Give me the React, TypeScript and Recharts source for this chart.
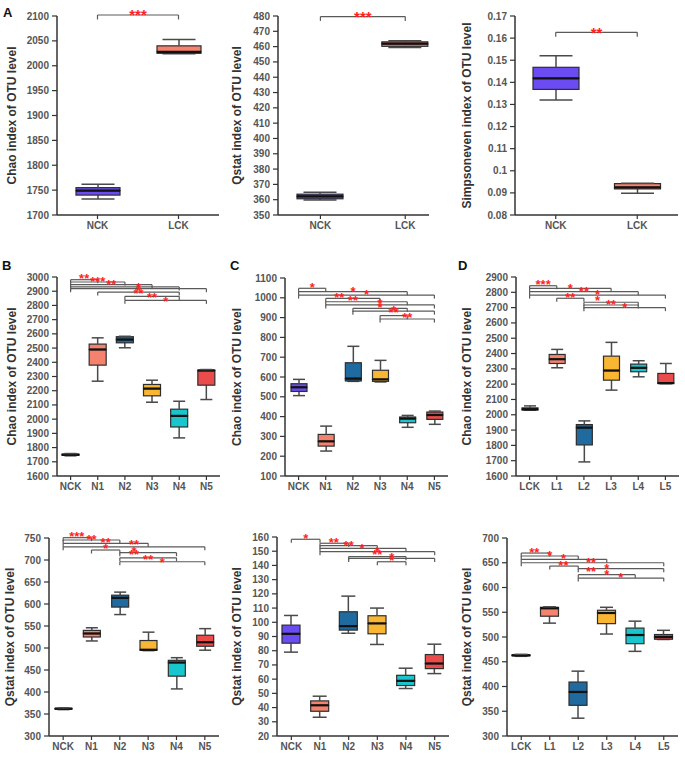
import React from 'react';
import { ComposedChart, Bar, XAxis, YAxis, ReferenceLine, ReferenceDot, Label } from 'recharts';

const FONT = '"Liberation Sans", Arial, Helvetica, sans-serif';
const BOX_COLORS = ['#6a4cf2', '#f4826d', '#1f6a9e', '#f8b632', '#19c6cd', '#ea4b4b'];
const EDGE = '#2e2e2e';
const WHISKER = '#4a4a4a';
const BRACKET = '#5a5a5a';
const STAR = '#ff1f1f';

// ---- categories ----
const catsA = ['NCK', 'LCK'];
const catsN = ['NCK', 'N1', 'N2', 'N3', 'N4', 'N5'];
const catsL = ['LCK', 'L1', 'L2', 'L3', 'L4', 'L5'];

// ---- box statistics: [min, q1, median, q3, max] per category ----
const chaoA = [[1732, 1740, 1749, 1755, 1762], [2024, 2025, 2028, 2040, 2053]];
const qstatA = [[359.8, 360.6, 362.2, 363.6, 364.8], [459.4, 460.2, 461.9, 463.1, 463.9]];
const simpA = [[0.132, 0.1368, 0.1418, 0.1468, 0.152], [0.0898, 0.0918, 0.0925, 0.0942, 0.0944]];

const chaoB = [
  [1742, 1745, 1750, 1754, 1758],
  [2267, 2380, 2490, 2528, 2572],
  [2502, 2537, 2560, 2580, 2583],
  [2119, 2164, 2215, 2244, 2274],
  [1868, 1945, 2023, 2070, 2126],
  [2138, 2239, 2342, 2345, 2349],
];
const chaoC = [
  [506, 527, 548, 566, 588],
  [226, 251, 275, 310, 352],
  [578, 580, 592, 672, 755],
  [575, 578, 588, 634, 684],
  [346, 369, 390, 398, 406],
  [361, 386, 408, 423, 428],
];
const chaoD = [
  [2030, 2031, 2036, 2045, 2058],
  [2307, 2335, 2363, 2394, 2427],
  [1692, 1803, 1916, 1936, 1960],
  [2161, 2226, 2289, 2383, 2473],
  [2248, 2281, 2307, 2331, 2353],
  [2203, 2204, 2207, 2270, 2335],
];
const qstatE = [
  [360, 361, 362, 363, 364],
  [516, 525, 533, 540, 546],
  [576, 593, 614, 620, 627],
  [494, 495, 496, 517, 536],
  [407, 436, 467, 472, 478],
  [495, 504, 513, 529, 544],
];
const qstatF = [
  [79, 85.3, 91.9, 98, 104.8],
  [33.2, 37.4, 41.6, 44.7, 48],
  [92.3, 94.5, 97.3, 107.4, 118.4],
  [84.4, 91.9, 99.2, 104.6, 110],
  [53.4, 55.5, 58.8, 62.7, 67.7],
  [63.9, 67.4, 71, 77.3, 84.6],
];
const qstatG = [
  [461, 462, 463, 464, 465],
  [528, 542, 558, 560, 561],
  [336, 362, 389, 409, 431],
  [506, 527, 548.5, 554, 560],
  [471, 486.5, 504, 518, 532],
  [495, 495.5, 500, 505, 513.5],
];

// ---- y tick values ----
const ticksChaoA = [1700, 1750, 1800, 1850, 1900, 1950, 2000, 2050, 2100];
const ticksQstatA = [350, 360, 370, 380, 390, 400, 410, 420, 430, 440, 450, 460, 470, 480];
const ticksSimpA = [0.08, 0.09, 0.1, 0.11, 0.12, 0.13, 0.14, 0.15, 0.16, 0.17];
const ticksChaoB = [1600, 1700, 1800, 1900, 2000, 2100, 2200, 2300, 2400, 2500, 2600, 2700, 2800, 2900, 3000];
const ticksChaoC = [100, 200, 300, 400, 500, 600, 700, 800, 900, 1000, 1100];
const ticksChaoD = [1600, 1700, 1800, 1900, 2000, 2100, 2200, 2300, 2400, 2500, 2600, 2700, 2800, 2900];
const ticksQstatE = [300, 350, 400, 450, 500, 550, 600, 650, 700, 750];
const ticksQstatF = [20, 30, 40, 50, 60, 70, 80, 90, 100, 110, 120, 130, 140, 150, 160];
const ticksQstatG = [300, 350, 400, 450, 500, 550, 600, 650, 700];

// ---- significance brackets: [fromIndex, toIndex, y] ----
const brA1 = [[0, 1, 2102]];
const brA2 = [[0, 1, 479.6]];
const brA3 = [[0, 1, 0.1626]];
const brB = [[0, 1, 2981], [0, 2, 2965], [0, 3, 2946], [0, 4, 2930], [0, 5, 2918], [1, 4, 2894], [2, 4, 2864], [2, 5, 2836]];
const brC = [[0, 1, 1048], [0, 4, 1031], [0, 5, 1014], [1, 3, 997], [1, 4, 980], [1, 5, 964], [2, 4, 947], [2, 5, 933], [3, 4, 910], [3, 5, 893]];
const brD = [[0, 1, 2843], [0, 3, 2826], [0, 4, 2804], [0, 5, 2782], [1, 2, 2761], [2, 4, 2735], [2, 4, 2717], [2, 5, 2700]];
const brE = [[0, 1, 750.8], [0, 2, 745.5], [0, 3, 738], [0, 5, 730], [1, 2, 722.7], [2, 4, 716.6], [2, 4, 705], [2, 5, 696]];
const brF = [[0, 1, 158.4], [1, 2, 155.6], [1, 3, 153.9], [1, 4, 152], [1, 5, 149.7], [2, 4, 146.2], [2, 5, 145], [3, 4, 142.6]];
const brG = [[0, 1, 669.6], [0, 2, 663.6], [0, 3, 657], [0, 5, 650], [1, 2, 643.3], [2, 5, 638], [2, 4, 626], [2, 5, 619]];

// ---- significance stars: [x (index units), y, text] ----
const stA1: [number, number, string][] = [[0.5, 2109, '***']];
const stA2: [number, number, string][] = [[0.5, 481.8, '***']];
const stA3: [number, number, string][] = [[0.5, 0.1641, '**']];
const stB: [number, number, string][] = [[0.5, 3009, '**'], [1.0, 2987, '***'], [1.5, 2966, '**'], [2.5, 2948, '*'], [2.5, 2927, '*'], [2.5, 2904, '**'], [3.0, 2873, '**'], [3.5, 2850, '*']];
const stC: [number, number, string][] = [[0.5, 1065, '*'], [2.0, 1048, '*'], [2.5, 1031, '*'], [1.5, 1014, '**'], [2.0, 1000, '**'], [3.0, 984, '*'], [3.0, 966, '*'], [3.5, 953, '*'], [3.5, 939, '**'], [4.0, 917, '**']];
const stD: [number, number, string][] = [[0.5, 2869, '***'], [1.5, 2843, '*'], [2.0, 2826, '**'], [2.5, 2804, '*'], [1.5, 2782, '**'], [2.5, 2765, '*'], [3.0, 2739, '**'], [3.5, 2721, '*']];
const stE: [number, number, string][] = [[0.48, 760.6, '***'], [1.0, 753, '**'], [1.5, 745.5, '**'], [1.5, 733, '*'], [2.5, 742, '**'], [2.5, 727, '*'], [2.5, 718, '**'], [3.0, 708.6, '**'], [3.5, 702, '*']];
const stF: [number, number, string][] = [[0.5, 160.7, '*'], [1.48, 158.4, '**'], [2.0, 156.3, '**'], [2.47, 153.9, '*'], [3.0, 152, '*'], [3.0, 149.7, '**'], [3.5, 147.3, '*'], [3.5, 145.5, '*']];
const stG: [number, number, string][] = [[0.46, 676.5, '**'], [1.0, 669.6, '*'], [1.48, 663.6, '*'], [1.48, 651, '**'], [2.45, 657, '**'], [3.0, 644.6, '*'], [2.45, 638, '**'], [3.0, 631.7, '*'], [3.49, 626, '*']];

function toRows(stats: number[][]) {
  return stats.map((s, i) => ({
    idx: i,
    base: s[0],
    w1: s[1] - s[0],
    b1: s[2] - s[1],
    b2: s[3] - s[2],
    w2: s[4] - s[3],
  }));
}

const norm = (p: any) => {
  const y1 = Math.min(p.y, p.y + p.height);
  const y2 = Math.max(p.y, p.y + p.height);
  return { cx: p.x + p.width / 2, y1, y2, x: p.x, w: p.width };
};
const idxOf = (p: any) => (p.payload && typeof p.payload.idx === 'number' ? p.payload.idx : p.index || 0);

const emptyShape = () => <g />;
const lowWhisker = (capW: number) => (p: any) => {
  const { cx, y1, y2 } = norm(p);
  return (
    <g>
      <line x1={cx} x2={cx} y1={y1} y2={y2} stroke={WHISKER} strokeWidth={1.5} />
      <line x1={cx - capW / 2} x2={cx + capW / 2} y1={y2} y2={y2} stroke={WHISKER} strokeWidth={1.5} />
    </g>
  );
};
const highWhisker = (capW: number) => (p: any) => {
  const { cx, y1, y2 } = norm(p);
  return (
    <g>
      <line x1={cx} x2={cx} y1={y1} y2={y2} stroke={WHISKER} strokeWidth={1.5} />
      <line x1={cx - capW / 2} x2={cx + capW / 2} y1={y1} y2={y1} stroke={WHISKER} strokeWidth={1.5} />
    </g>
  );
};
const lowBox = (p: any) => {
  const { x, w, y1, y2 } = norm(p);
  return <rect x={x} y={y1} width={w} height={Math.max(y2 - y1, 0.01)} fill={BOX_COLORS[idxOf(p)]} stroke={EDGE} strokeWidth={1.2} />;
};
const highBox = (p: any) => {
  const { x, w, y1, y2 } = norm(p);
  return (
    <g>
      <rect x={x} y={y1} width={w} height={Math.max(y2 - y1, 0.01)} fill={BOX_COLORS[idxOf(p)]} stroke={EDGE} strokeWidth={1.2} />
      <line x1={x} x2={x + w} y1={y2} y2={y2} stroke="#111" strokeWidth={2.2} />
    </g>
  );
};

type Cfg = {
  left: number; top: number; width: number; height: number; marginTop: number;
  axisX: number; xAxisHeight: number; labelX: number;
  cats: string[]; stats: number[][]; yDomain: [number, number]; yTicks: number[];
  yLabel: string; xDomain: [number, number]; boxW: number; capW: number;
  brackets: number[][]; tickLen: number; stars: [number, number, string][]; starSize: number;
};

function BoxPanel({ cfg }: { cfg: Cfg }) {
  const rows = toRows(cfg.stats);
  const yw = cfg.axisX - cfg.left;
  const idxTicks = cfg.cats.map((_, i) => i);
  const tickStyle = { fontSize: 10, fontWeight: 'bold', fill: '#555', fontFamily: FONT };
  const fs = cfg.starSize;
  return (
    <div style={{ position: 'absolute', left: cfg.left, top: cfg.top }}>
      <ComposedChart
        width={cfg.width}
        height={cfg.height}
        data={rows}
        margin={{ top: cfg.marginTop, right: 2, bottom: 0, left: 0 }}
      >
        <XAxis
          type="number"
          dataKey="idx"
          domain={cfg.xDomain}
          ticks={idxTicks}
          allowDataOverflow
          interval={0}
          tickFormatter={(v: number) => cfg.cats[v] ?? ''}
          height={cfg.xAxisHeight}
          tickSize={4}
          tickMargin={3}
          axisLine={{ stroke: '#333', strokeWidth: 1.5 }}
          tickLine={{ stroke: '#333', strokeWidth: 1.2 }}
          tick={tickStyle}
        />
        <YAxis
          type="number"
          domain={cfg.yDomain}
          ticks={cfg.yTicks}
          allowDataOverflow
          interval={0}
          width={yw}
          tickSize={5}
          tickMargin={3}
          axisLine={{ stroke: '#333', strokeWidth: 1.5 }}
          tickLine={{ stroke: '#333', strokeWidth: 1.2 }}
          tick={tickStyle}
        >
          <Label
            value={cfg.yLabel}
            angle={-90}
            position="insideLeft"
            offset={cfg.labelX - cfg.left}
            style={{ textAnchor: 'middle', fontSize: 12, fontWeight: 'bold', fill: '#333', fontFamily: FONT }}
          />
        </YAxis>
        <Bar dataKey="base" stackId="s" barSize={cfg.boxW} isAnimationActive={false} shape={emptyShape} />
        <Bar dataKey="w1" stackId="s" barSize={cfg.boxW} isAnimationActive={false} shape={lowWhisker(cfg.capW)} />
        <Bar dataKey="b1" stackId="s" barSize={cfg.boxW} isAnimationActive={false} shape={lowBox} />
        <Bar dataKey="b2" stackId="s" barSize={cfg.boxW} isAnimationActive={false} shape={highBox} />
        <Bar dataKey="w2" stackId="s" barSize={cfg.boxW} isAnimationActive={false} shape={highWhisker(cfg.capW)} />
        {cfg.brackets.map((b, i) => (
          <ReferenceLine
            key={`h${i}`}
            segment={[{ x: b[0], y: b[2] }, { x: b[1], y: b[2] }]}
            stroke={BRACKET}
            strokeWidth={1.2}
            ifOverflow="visible"
          />
        ))}
        {cfg.brackets.map((b, i) => (
          <ReferenceLine
            key={`l${i}`}
            segment={[{ x: b[0], y: b[2] }, { x: b[0], y: b[2] - cfg.tickLen }]}
            stroke={BRACKET}
            strokeWidth={1.2}
            ifOverflow="visible"
          />
        ))}
        {cfg.brackets.map((b, i) => (
          <ReferenceLine
            key={`r${i}`}
            segment={[{ x: b[1], y: b[2] }, { x: b[1], y: b[2] - cfg.tickLen }]}
            stroke={BRACKET}
            strokeWidth={1.2}
            ifOverflow="visible"
          />
        ))}
        {cfg.stars.map((s, i) => (
          <ReferenceDot
            key={`s${i}`}
            x={s[0]}
            y={s[1]}
            r={0}
            ifOverflow="visible"
            shape={(p: any) => (
              <text
                x={p.cx}
                y={p.cy + fs * 0.57}
                textAnchor="middle"
                fill={STAR}
                fontSize={fs}
                fontWeight="bold"
                fontFamily={FONT}
              >
                {s[2]}
              </text>
            )}
          />
        ))}
      </ComposedChart>
    </div>
  );
}

const panels: Cfg[] = [
  { left: 0, top: 0, width: 221, height: 245, marginTop: 16, axisX: 57, xAxisHeight: 30, labelX: 12,
    cats: catsA, stats: chaoA, yDomain: [1700, 2100], yTicks: ticksChaoA, yLabel: 'Chao index of OTU level',
    xDomain: [-0.5, 1.5], boxW: 44, capW: 33, brackets: brA1, tickLen: 9, stars: stA1, starSize: 15 },
  { left: 225, top: 0, width: 206, height: 245, marginTop: 16, axisX: 278, xAxisHeight: 30, labelX: 237,
    cats: catsA, stats: qstatA, yDomain: [350, 480], yTicks: ticksQstatA, yLabel: 'Qstat index of OTU level',
    xDomain: [-0.5, 1.28], boxW: 46, capW: 33, brackets: brA2, tickLen: 2.8, stars: stA2, starSize: 15 },
  { left: 455, top: 0, width: 225, height: 245, marginTop: 16, axisX: 515, xAxisHeight: 30, labelX: 467,
    cats: catsA, stats: simpA, yDomain: [0.08, 0.17], yTicks: ticksSimpA, yLabel: 'Simpsoneven index of OTU level',
    xDomain: [-0.5, 1.5], boxW: 46, capW: 33, brackets: brA3, tickLen: 0.002, stars: stA3, starSize: 15 },

  { left: 0, top: 255, width: 222, height: 251, marginTop: 22, axisX: 57, xAxisHeight: 30, labelX: 12,
    cats: catsN, stats: chaoB, yDomain: [1600, 3000], yTicks: ticksChaoB, yLabel: 'Chao index of OTU level',
    xDomain: [-0.5, 5.5], boxW: 17, capW: 12, brackets: brB, tickLen: 25, stars: stB, starSize: 13 },
  { left: 225, top: 255, width: 225, height: 251, marginTop: 23, axisX: 285, xAxisHeight: 30, labelX: 237,
    cats: catsN, stats: chaoC, yDomain: [100, 1100], yTicks: ticksChaoC, yLabel: 'Chao index of OTU level',
    xDomain: [-0.5, 5.5], boxW: 16, capW: 12, brackets: brC, tickLen: 18, stars: stC, starSize: 13 },
  { left: 455, top: 255, width: 226, height: 251, marginTop: 22, axisX: 516, xAxisHeight: 30, labelX: 467,
    cats: catsL, stats: chaoD, yDomain: [1600, 2900], yTicks: ticksChaoD, yLabel: 'Chao index of OTU level',
    xDomain: [-0.5, 5.5], boxW: 16, capW: 12, brackets: brD, tickLen: 23, stars: stD, starSize: 13 },

  { left: 0, top: 515, width: 221, height: 244, marginTop: 23, axisX: 49, xAxisHeight: 23, labelX: 10,
    cats: catsN, stats: qstatE, yDomain: [300, 750], yTicks: ticksQstatE, yLabel: 'Qstat index of OTU level',
    xDomain: [-0.5, 5.5], boxW: 17, capW: 12, brackets: brE, tickLen: 8, stars: stE, starSize: 13 },
  { left: 225, top: 515, width: 226, height: 244, marginTop: 22, axisX: 277, xAxisHeight: 23, labelX: 237,
    cats: catsN, stats: qstatF, yDomain: [20, 160], yTicks: ticksQstatF, yLabel: 'Qstat index of OTU level',
    xDomain: [-0.5, 5.5], boxW: 18, capW: 14, brackets: brF, tickLen: 2.5, stars: stF, starSize: 13 },
  { left: 455, top: 515, width: 225, height: 244, marginTop: 23, axisX: 507, xAxisHeight: 23, labelX: 467,
    cats: catsL, stats: qstatG, yDomain: [300, 700], yTicks: ticksQstatG, yLabel: 'Qstat index of OTU level',
    xDomain: [-0.5, 5.5], boxW: 18, capW: 13, brackets: brG, tickLen: 7, stars: stG, starSize: 13 },
];

const letters: [string, number, number][] = [['A', 3, 6], ['B', 2, 259], ['C', 230, 259], ['D', 458, 259]];

export default function App() {
  return (
    <div style={{ position: 'absolute', left: 0, top: 0, width: 685, height: 759, background: '#fff', fontFamily: FONT, overflow: 'hidden' }}>
      {panels.map((p, i) => (
        <BoxPanel key={i} cfg={p} />
      ))}
      {letters.map(([t, x, y]) => (
        <div key={t} style={{ position: 'absolute', left: x, top: y, fontSize: 13, fontWeight: 'bold', color: '#111', lineHeight: '14px' }}>
          {t}
        </div>
      ))}
    </div>
  );
}
